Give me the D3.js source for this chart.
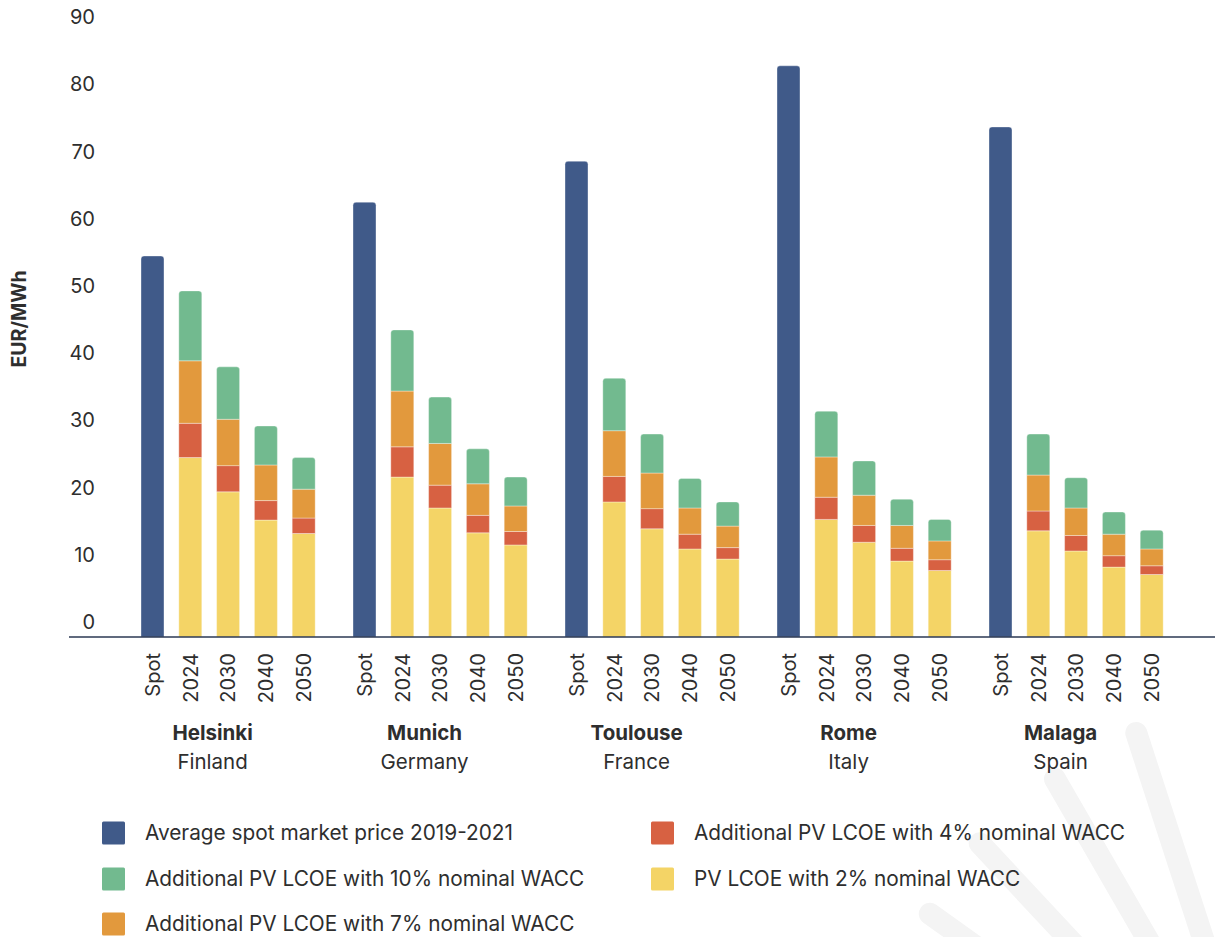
<!DOCTYPE html>
<html>
<head>
<meta charset="utf-8">
<script src="https://cdn.jsdelivr.net/npm/d3@7"></script>
<style>
  html, body { margin: 0; padding: 0; background: #ffffff; }
  svg { display: block; font-family: Inter, "Noto Sans", sans-serif; }
</style>
</head>
<body>
<svg id="chart" width="1215" height="937"></svg>
<script>
// Cities and their countries
const cities = ["Helsinki", "Munich", "Toulouse", "Rome", "Malaga"];
const countries = ["Finland", "Germany", "France", "Italy", "Spain"];
// Bars inside each city group
const barLabels = ["Spot", "2024", "2030", "2040", "2050"];
const years = ["2024", "2030", "2040", "2050"];

// Average spot market price 2019-2021 (EUR/MWh)
const spotPrice = [56.7, 64.7, 70.8, 85.0, 75.9];
// PV LCOE with 2% nominal WACC, per year 2024/2030/2040/2050
const lcoe2 = [
  [26.7, 21.6, 17.4, 15.4],
  [23.8, 19.2, 15.5, 13.7],
  [20.1, 16.1, 13.1, 11.6],
  [17.5, 14.1, 11.3, 9.9],
  [15.8, 12.8, 10.4, 9.3]
];
// Additional PV LCOE with 4% nominal WACC
const add4 = [
  [5.1, 3.9, 2.9, 2.3],
  [4.5, 3.4, 2.6, 2.0],
  [3.8, 3.0, 2.2, 1.7],
  [3.3, 2.5, 1.9, 1.6],
  [2.95, 2.3, 1.7, 1.3]
];
// Additional PV LCOE with 7% nominal WACC
const add7 = [
  [9.3, 6.9, 5.3, 4.3],
  [8.3, 6.2, 4.7, 3.8],
  [6.8, 5.3, 3.9, 3.2],
  [6.0, 4.5, 3.4, 2.8],
  [5.35, 4.1, 3.2, 2.5]
];
// Additional PV LCOE with 10% nominal WACC
const add10 = [
  [10.4, 7.8, 5.8, 4.7],
  [9.1, 6.9, 5.2, 4.3],
  [7.8, 5.8, 4.4, 3.6],
  [6.8, 5.1, 3.9, 3.2],
  [6.1, 4.5, 3.3, 2.8]
];
const yTicks = [0, 10, 20, 30, 40, 50, 60, 70, 80, 90];

const stackKeys = ["lcoe2", "add4", "add7", "add10"];
const colors = {
  spot: "#405a89",
  lcoe2: "#f4d466",
  add4: "#d76142",
  add7: "#e2993d",
  add10: "#72ba8f"
};
const legendItems = [
  { key: "spot", label: "Average spot market price 2019-2021", col: 0, row: 0 },
  { key: "add10", label: "Additional PV LCOE with 10% nominal WACC", col: 0, row: 1 },
  { key: "add7", label: "Additional PV LCOE with 7% nominal WACC", col: 0, row: 2 },
  { key: "add4", label: "Additional PV LCOE with 4% nominal WACC", col: 1, row: 0 },
  { key: "lcoe2", label: "PV LCOE with 2% nominal WACC", col: 1, row: 1 }
];

const textColor = "#2e2e2e";
const svg = d3.select("#chart");

// Decorative sun rays in the lower right corner
const rayCenter = [1275, 1160];
const rays = [
  { angle: 108, r: 449 },
  { angle: 120, r: 440 },
  { angle: 133, r: 433 },
  { angle: 144.5, r: 424 }
];
svg.append("g")
  .selectAll("line")
  .data(rays)
  .join("line")
  .attr("x1", d => rayCenter[0] + d.r * Math.cos(d.angle * Math.PI / 180))
  .attr("y1", d => rayCenter[1] - d.r * Math.sin(d.angle * Math.PI / 180))
  .attr("x2", d => rayCenter[0] + 120 * Math.cos(d.angle * Math.PI / 180))
  .attr("y2", d => rayCenter[1] - 120 * Math.sin(d.angle * Math.PI / 180))
  .attr("stroke", "#f4f4f4")
  .attr("stroke-width", 22)
  .attr("stroke-linecap", "round");

// Scales
const x0 = d3.scaleBand()
  .domain(cities)
  .range([133.6, 1170.6])
  .paddingInner(0.1085)
  .paddingOuter(0);
const x1 = d3.scaleBand()
  .domain(barLabels)
  .range([0, x0.bandwidth()])
  .paddingInner(0.392)
  .paddingOuter(0.196);
const y = d3.scaleLinear().domain([0, 90]).range([637, 637 - 90 * 6.72]);

// Y axis labels (sit slightly above their value lines)
const yAxis = d3.axisLeft(y).tickValues(yTicks).tickSize(0).tickPadding(0);
const gy = svg.append("g").attr("transform", "translate(95,0)").call(yAxis);
gy.select(".domain").remove();
gy.selectAll("text")
  .attr("y", -15)
  .attr("font-size", 20)
  .attr("font-family", "Inter, sans-serif")
  .attr("fill", textColor);

svg.append("text")
  .attr("transform", "translate(19,319) rotate(-90)")
  .attr("text-anchor", "middle")
  .attr("dy", "0.35em")
  .attr("font-size", 19.5)
  .attr("font-weight", 700)
  .attr("fill", textColor)
  .text("EUR/MWh");

// Rounded-top bar path
function topRounded(x, y0, w, h, r) {
  r = Math.min(r, h / 2, w / 2);
  return `M${x},${y0 + h}V${y0 + r}Q${x},${y0} ${x + r},${y0}H${x + w - r}Q${x + w},${y0} ${x + w},${y0 + r}V${y0 + h}Z`;
}

// Rows for the stacked LCOE bars
const rows = [];
cities.forEach((c, i) => {
  years.forEach((yr, j) => {
    rows.push({ city: c, year: yr, lcoe2: lcoe2[i][j], add4: add4[i][j], add7: add7[i][j], add10: add10[i][j] });
  });
});
const series = d3.stack().keys(stackKeys)(rows);

const bars = svg.append("g");
const bw = x1.bandwidth();

// Spot price bars
bars.append("g")
  .selectAll("path")
  .data(cities.map((c, i) => ({ city: c, value: spotPrice[i] })))
  .join("path")
  .attr("d", d => topRounded(x0(d.city) + x1("Spot"), y(d.value), bw, y(0) - y(d.value), 3))
  .attr("fill", colors.spot)
  .attr("stroke", "#ffffff")
  .attr("stroke-opacity", 0.35)
  .attr("stroke-width", 1);

// Stacked LCOE bars
series.forEach((s, si) => {
  const isTop = si === series.length - 1;
  bars.append("g")
    .selectAll("path")
    .data(s)
    .join("path")
    .attr("d", d => {
      const xx = x0(d.data.city) + x1(d.data.year);
      const yt = y(d[1]);
      const h = y(d[0]) - y(d[1]);
      return topRounded(xx, yt, bw, h, isTop ? 3 : 0);
    })
    .attr("fill", colors[s.key])
    .attr("stroke", "#ffffff")
    .attr("stroke-opacity", 0.35)
    .attr("stroke-width", 1);
});

// Baseline
svg.append("line")
  .attr("x1", 69).attr("x2", 1215)
  .attr("y1", y(0)).attr("y2", y(0))
  .attr("stroke", "#2b3853")
  .attr("stroke-width", 1.6);

// Bar labels, rotated
const labelData = [];
cities.forEach(c => barLabels.forEach(b => labelData.push({ city: c, bar: b })));
svg.append("g")
  .selectAll("text")
  .data(labelData)
  .join("text")
  .attr("transform", d => `translate(${x0(d.city) + x1(d.bar) + bw / 2},653) rotate(-90)`)
  .attr("text-anchor", "end")
  .attr("dy", "0.36em")
  .attr("font-size", 20)
  .attr("fill", textColor)
  .text(d => d.bar);

// City and country labels
const cityG = svg.append("g");
cities.forEach((c, i) => {
  const cx = x0(c) + x0.bandwidth() / 2 - 15.5;
  cityG.append("text")
    .attr("x", cx).attr("y", 740)
    .attr("text-anchor", "middle")
    .attr("font-size", 20.5)
    .attr("font-weight", 700)
    .attr("fill", textColor)
    .text(c);
  cityG.append("text")
    .attr("x", cx).attr("y", 769)
    .attr("text-anchor", "middle")
    .attr("font-size", 20.5)
    .attr("fill", textColor)
    .text(countries[i]);
});

// Legend
const legend = svg.append("g");
const colX = [102, 651];
const rowY = [833, 879, 924];
legendItems.forEach(it => {
  const lx = colX[it.col], ly = rowY[it.row];
  legend.append("rect")
    .attr("x", lx).attr("y", ly - 11.5)
    .attr("width", 23).attr("height", 23)
    .attr("rx", 1.5)
    .attr("fill", colors[it.key]);
  legend.append("text")
    .attr("x", lx + 43).attr("y", ly)
    .attr("dy", "0.35em")
    .attr("font-size", 20.8)
    .attr("fill", textColor)
    .text(it.label);
});
</script>
</body>
</html>
